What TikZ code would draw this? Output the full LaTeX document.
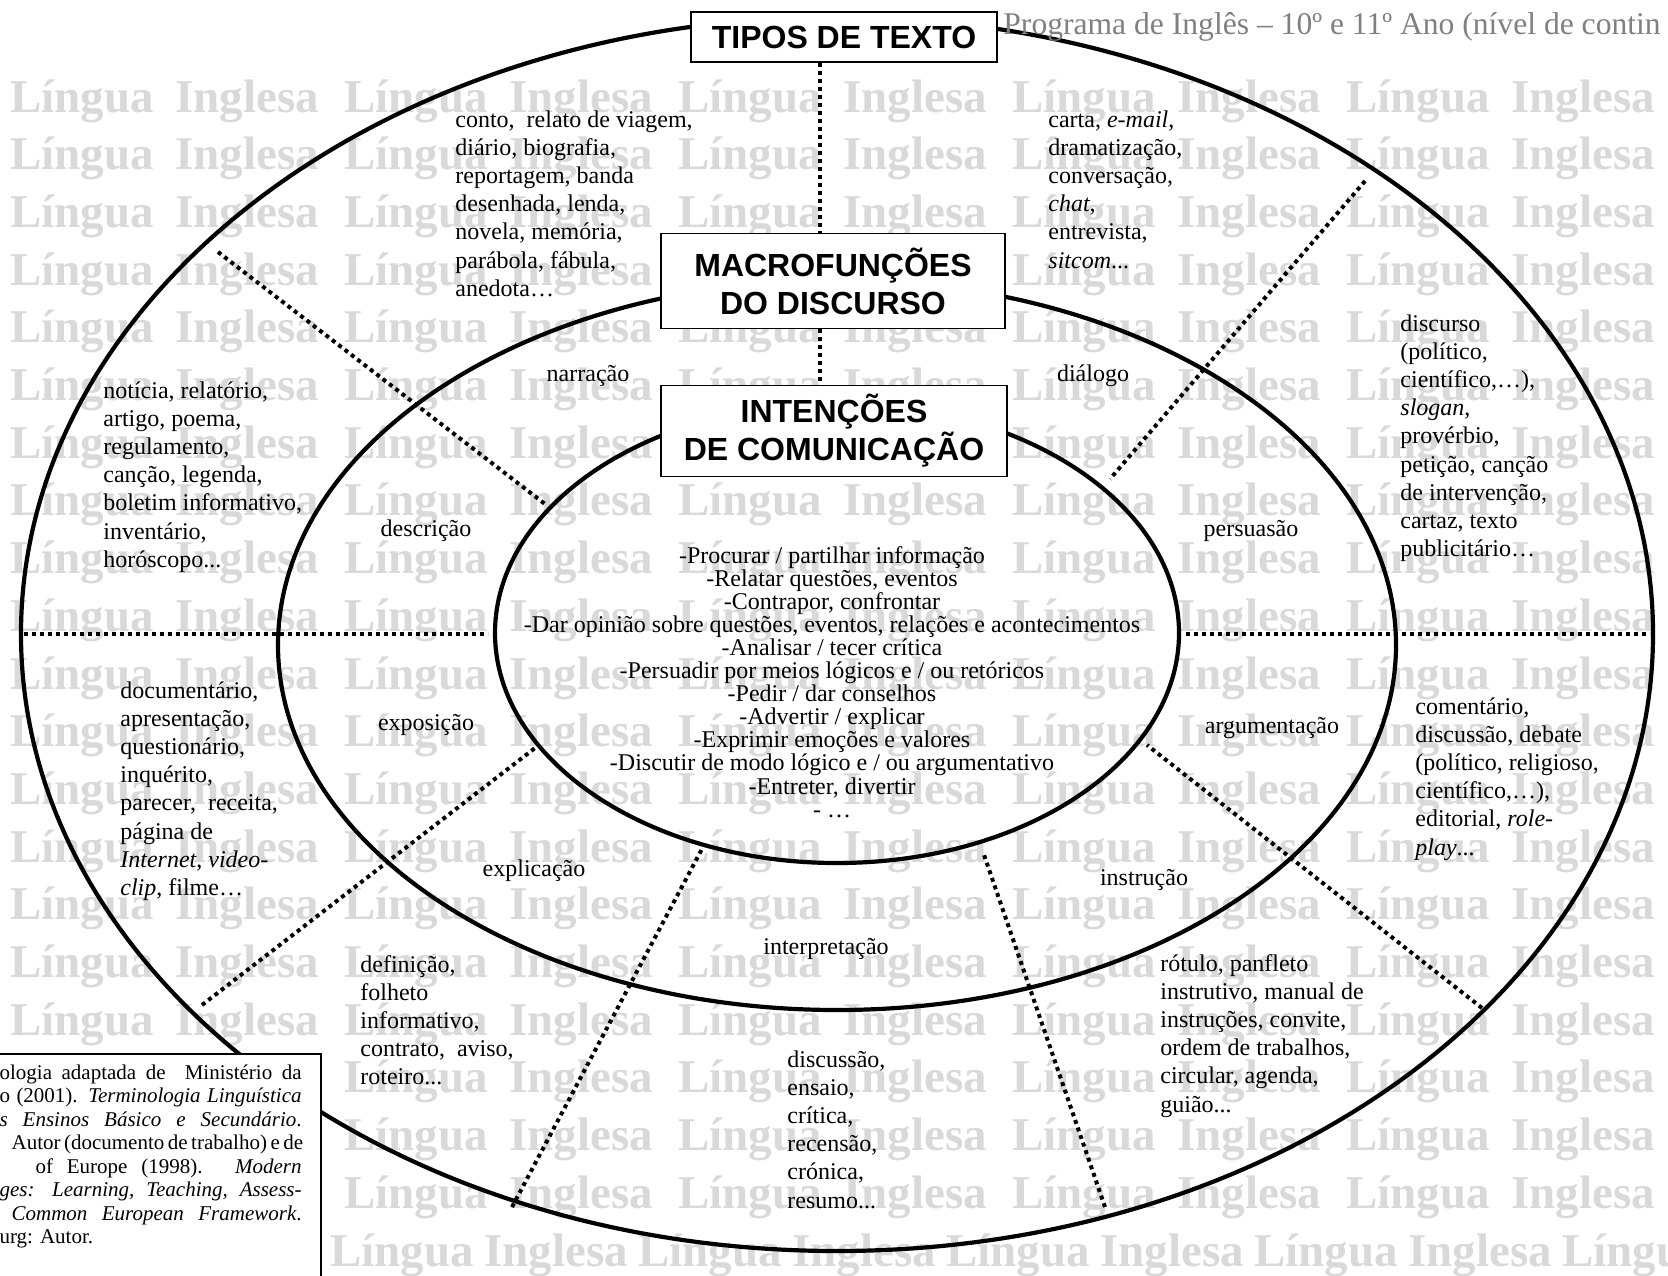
\documentclass[tikz,border=0pt]{standalone}
\usepackage{fontspec}
\setmainfont{Liberation Serif}
\setsansfont{Liberation Sans}
\usetikzlibrary{positioning}

\newcommand\tightlines{\lineskiplimit=-20pt\relax}

\tikzset{
  ring/.style={line width=2.1pt},
  divider/.style={line width=2pt, dash pattern=on 2pt off 2pt},
  hdr/.style={draw, fill=white, line width=0.8pt, align=center, inner sep=0pt,
    font=\fontsize{16}{19}\selectfont\sffamily\bfseries},
  txt/.style={anchor=base west, align=left, inner sep=0pt,
    font=\fontsize{12}{14.1}\selectfont\tightlines},
  lbl/.style={anchor=base, inner sep=0pt, font=\fontsize{12}{14}\selectfont},
  wm/.style={anchor=base west, inner sep=0pt, text=black!15,
    font=\fontsize{23.5}{23.5}\selectfont\bfseries}
}

\begin{document}
\begin{tikzpicture}[x=0.5pt,y=-0.5pt]
\useasboundingbox (0,0) rectangle (1668,1275);
\clip (0,0) rectangle (1668,1275);

\foreach \r in {0,...,19}{
  \foreach \c in {0,...,4}{
    \node[wm] (wl-\r-\c) at (10+334*\c, 112+57.7*\r) {Língua};
    \node[wm] (wi-\r-\c) at (175+334*\c, 112+57.7*\r) {Inglesa};
  }
}
\foreach \c in {0,...,4}{
  \node[wm] (wl-20-\c) at (330+308*\c, 1266) {Língua};
  \node[wm] (wi-20-\c) at (484+308*\c, 1266) {Inglesa};
}

\draw[ring] (837,634) ellipse [x radius=816, y radius=617];
\draw[ring] (837,645) ellipse [x radius=559, y radius=365];
\draw[ring] (837,633) ellipse [x radius=342, y radius=230];

\draw[divider] (24,634) -- (488,634);
\draw[divider] (1186,634) -- (1650,634);
\draw[divider] (218,252) -- (545,504);
\draw[divider] (1365,181) -- (1110,479);
\draw[divider] (202,1005) -- (535,748);
\draw[divider] (1482,1008) -- (1147,745);
\draw[divider] (512,1207) -- (703,847);
\draw[divider] (1105,1207) -- (983,852);

\node[hdr, minimum width=153pt, minimum height=25pt] (tipos) at (844,37) {TIPOS DE TEXTO};
\node[hdr, minimum width=172pt, minimum height=47.5pt] (macro) at (833,281) {MACROFUNÇÕES\\DO DISCURSO};
\node[hdr, minimum width=173pt, minimum height=45.5pt] (intencoes) at (834,431) {INTENÇÕES\\DE COMUNICAÇÃO};
\coordinate (vx) at (820,0);
\draw[divider] (tipos.south -| vx) -- (macro.north -| vx);
\draw[divider] (macro.south -| vx) -- (intencoes.north -| vx);

\node[anchor=base west, inner sep=0pt, text=black!50, font=\fontsize{15.8}{19}\selectfont] (prog) at (1003,34) {Programa de Inglês – 10º e 11º Ano (nível de contin};

\node[txt] (narrtxt) at (455,296.2) {conto,\ \ relato de viagem,\\diário, biografia,\\reportagem, banda\\desenhada, lenda,\\novela, memória,\\parábola, fábula,\\anedota…};
\node[txt] (dialtxt) at (1048,268) {carta, \emph{e-mail},\\dramatização,\\conversação,\\\emph{chat},\\entrevista,\\\emph{sitcom}...};
\node[txt] (perstxt) at (1400,556.6) {discurso\\(político,\\científico,…),\\\emph{slogan},\\provérbio,\\petição, canção\\de intervenção,\\cartaz, texto\\publicitário…};
\node[txt] (desctxt) at (103,567.2) {notícia, relatório,\\artigo, poema,\\regulamento,\\canção, legenda,\\boletim informativo,\\inventário,\\horóscopo...};
\node[txt] (expotxt) at (120,895.4) {documentário,\\apresentação,\\questionário,\\inquérito,\\parecer,\ \ receita,\\página de\\\emph{Internet}, \emph{video-}\\\emph{clip}, filme…};
\node[txt] (argutxt) at (1415,855) {comentário,\\discussão, debate\\(político, religioso,\\científico,…),\\editorial, \emph{role-}\\\emph{play}...};
\node[txt] (expltxt) at (360,1084.8) {definição,\\folheto\\informativo,\\contrato,\ \ aviso,\\roteiro...};
\node[txt] (intetxt) at (787,1208) {discussão,\\ensaio,\\crítica,\\recensão,\\crónica,\\resumo...};
\node[txt] (insttxt) at (1160,1112) {rótulo, panfleto\\instrutivo, manual de\\instruções, convite,\\ordem de trabalhos,\\circular, agenda,\\guião...};

\node[lbl] (narr) at (588,381) {narração};
\node[lbl] (dial) at (1093,381) {diálogo};
\node[lbl] (desc) at (426,536) {descrição};
\node[lbl] (pers) at (1251,536) {persuasão};
\node[lbl] (expo) at (426,730) {exposição};
\node[lbl] (argu) at (1272,733) {argumentação};
\node[lbl] (expl) at (534,876) {explicação};
\node[lbl] (inst) at (1144,885) {instrução};
\node[lbl] (inte) at (826,954) {interpretação};

\node[anchor=base, align=center, inner sep=0pt,
  font=\fontsize{12}{11.55}\selectfont\tightlines] (intent) at (832,817.1)
  {-Procurar / partilhar informação\\-Relatar questões, eventos\\-Contrapor, confrontar\\-Dar opinião sobre questões, eventos, relações e acontecimentos\\-Analisar / tecer crítica\\-Persuadir por meios lógicos e / ou retóricos\\-Pedir / dar conselhos\\-Advertir / explicar\\-Exprimir emoções e valores\\-Discutir de modo lógico e / ou argumentativo\\-Entreter, divertir\\- …};

\draw[line width=0.6pt, fill=white] (-10,1054) rectangle (321,1290);
\node[anchor=base east, align=right, inner sep=0pt,
  font=\fontsize{10.5}{11.75}\selectfont\tightlines] (fonte) at (302,1243.5)
  {\makebox[151pt][s]{ologia adaptada de\ \ Ministério da}\\
   \makebox[151pt][s]{o (2001). \emph{Terminologia Linguística}}\\
   \makebox[151pt][s]{\emph{s Ensinos Básico e Secundário}.}\\
   \makebox[151pt][s]{\hspace*{6pt}Autor (documento de trabalho) e de}\\
   \makebox[151pt][s]{\hspace*{18pt}of Europe (1998). \emph{Modern}}\\
   \makebox[151pt][s]{\emph{ges: Learning, Teaching, Assess-}}\\
   \makebox[151pt][s]{\hspace*{6pt}\emph{Common European Framework}.}\\
   \makebox[151pt][l]{urg: Autor.}};
\end{tikzpicture}
\end{document}
